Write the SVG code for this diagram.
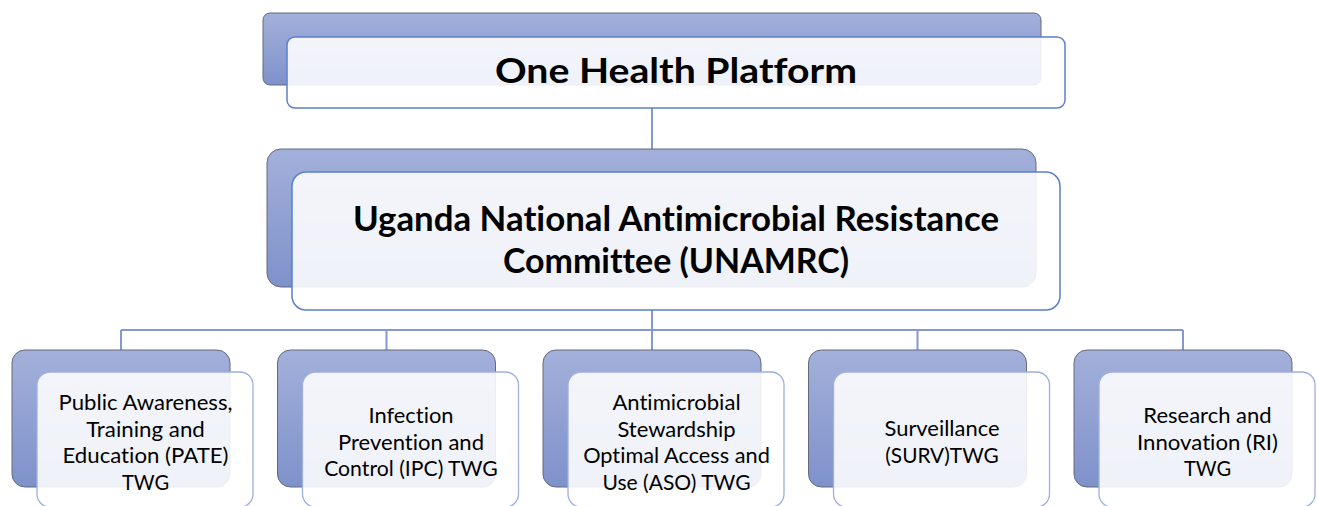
<svg xmlns="http://www.w3.org/2000/svg" width="1318" height="506" viewBox="0 0 1318 506">
  <defs>
    <linearGradient id="backFill" x1="0" y1="0" x2="0" y2="1">
      <stop offset="0" stop-color="#a3b0da"/>
      <stop offset="1" stop-color="#7e91ca"/>
    </linearGradient>
    <style>
      .back{fill:url(#backFill);stroke:#646a7c;stroke-width:1}
      .front{fill:#fff;fill-opacity:0.88;stroke:#5c7fcb;stroke-width:1.5}
      .front-sm{fill:#fff;fill-opacity:0.88;stroke:#9db0de;stroke-width:1.3}
      .conn{fill:none;stroke:#8499d4;stroke-width:2}
      text{font-variant-ligatures:none;font-feature-settings:"liga" 0}
      .title{font-family:Lato,"Liberation Sans",sans-serif;font-weight:700;font-size:33.5px;fill:#000;text-anchor:middle}
      .label{font-family:Lato,"Liberation Sans",sans-serif;font-size:21.5px;fill:#000;text-anchor:middle}
    </style>
  </defs>
  <rect width="1318" height="506" fill="#fff"/>

  <!-- connectors -->
  <g id="connectors" class="conn">
    <path d="M652,108 V149"/>
    <path d="M652,310 V330"/>
    <path d="M121,330 H1183"/>
    <path d="M121,330 V350"/>
    <path d="M386.5,330 V350"/>
    <path d="M652,330 V350"/>
    <path d="M917.5,330 V350"/>
    <path d="M1183,330 V350"/>
  </g>

  <!-- top level -->
  <g id="one-health-platform">
    <rect class="back" x="263" y="13" width="778" height="72" rx="7"/>
    <rect class="front" x="287" y="37" width="778" height="71" rx="8"/>
    <text class="title" x="676" y="83" textLength="362" lengthAdjust="spacingAndGlyphs">One Health Platform</text>
  </g>

  <!-- national committee -->
  <g id="unamrc">
    <rect class="back" x="267" y="149" width="769" height="138" rx="14"/>
    <rect class="front" x="292" y="172" width="768" height="138" rx="14"/>
    <text class="title" x="676" y="231" textLength="646" lengthAdjust="spacingAndGlyphs">Uganda National Antimicrobial Resistance</text>
    <text class="title" x="676" y="273" textLength="346" lengthAdjust="spacingAndGlyphs">Committee (UNAMRC)</text>
  </g>

  <!-- technical working groups -->
  <g id="twg-pate">
    <rect class="back" x="12" y="350" width="218" height="137" rx="13"/>
    <rect class="front-sm" x="37" y="372" width="216" height="135" rx="13"/>
    <text class="label" x="145.5" y="410" textLength="174" lengthAdjust="spacingAndGlyphs">Public Awareness,</text>
    <text class="label" x="145.5" y="436.5" textLength="118.7" lengthAdjust="spacingAndGlyphs">Training and</text>
    <text class="label" x="145.5" y="463" textLength="166" lengthAdjust="spacingAndGlyphs">Education (PATE)</text>
    <text class="label" x="145.5" y="489.5" textLength="47.2" lengthAdjust="spacingAndGlyphs">TWG</text>
  </g>

  <g id="twg-ipc">
    <rect class="back" x="277.5" y="350" width="218" height="137" rx="13"/>
    <rect class="front-sm" x="302.5" y="372" width="216" height="135" rx="13"/>
    <text class="label" x="411" y="423" textLength="85" lengthAdjust="spacingAndGlyphs">Infection</text>
    <text class="label" x="411" y="449.5" textLength="146" lengthAdjust="spacingAndGlyphs">Prevention and</text>
    <text class="label" x="411" y="476" textLength="173.7" lengthAdjust="spacingAndGlyphs">Control (IPC) TWG</text>
  </g>

  <g id="twg-aso">
    <rect class="back" x="543" y="350" width="218" height="137" rx="13"/>
    <rect class="front-sm" x="568" y="372" width="216" height="135" rx="13"/>
    <text class="label" x="676.5" y="410" textLength="128.2" lengthAdjust="spacingAndGlyphs">Antimicrobial</text>
    <text class="label" x="676.5" y="436.5" textLength="118.2" lengthAdjust="spacingAndGlyphs">Stewardship</text>
    <text class="label" x="676.5" y="463" textLength="186.7" lengthAdjust="spacingAndGlyphs">Optimal Access and</text>
    <text class="label" x="676.5" y="489.5" textLength="148" lengthAdjust="spacingAndGlyphs">Use (ASO) TWG</text>
  </g>

  <g id="twg-surv">
    <rect class="back" x="808.5" y="350" width="218" height="137" rx="13"/>
    <rect class="front-sm" x="833.5" y="372" width="216" height="135" rx="13"/>
    <text class="label" x="942" y="436" textLength="115" lengthAdjust="spacingAndGlyphs">Surveillance</text>
    <text class="label" x="942" y="462.5" textLength="113.4" lengthAdjust="spacingAndGlyphs">(SURV)TWG</text>
  </g>

  <g id="twg-ri">
    <rect class="back" x="1074" y="350" width="218" height="137" rx="13"/>
    <rect class="front-sm" x="1099" y="372" width="216" height="135" rx="13"/>
    <text class="label" x="1207.5" y="423" textLength="128.3" lengthAdjust="spacingAndGlyphs">Research and</text>
    <text class="label" x="1207.5" y="449.5" textLength="141" lengthAdjust="spacingAndGlyphs">Innovation (RI)</text>
    <text class="label" x="1207.5" y="476" textLength="47.2" lengthAdjust="spacingAndGlyphs">TWG</text>
  </g>
</svg>
